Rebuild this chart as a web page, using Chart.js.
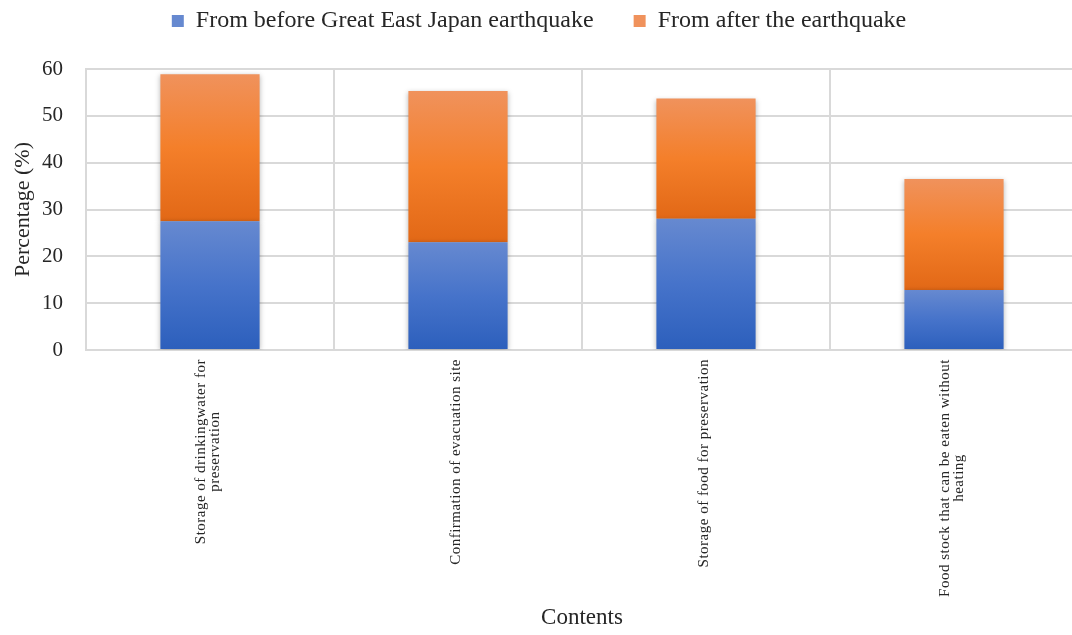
<!DOCTYPE html>
<html>
<head>
<meta charset="utf-8">
<script src="https://cdn.jsdelivr.net/npm/chart.js@4/dist/chart.umd.min.js"></script>
<style>
  html, body { margin: 0; padding: 0; background: #fff; overflow: hidden; }
  #wrap { width: 1078px; height: 635px; }
</style>
</head>
<body>
<div id="wrap"><canvas id="chart" width="1078" height="635"></canvas></div>
<script>
// data
const categories = [
  ["Storage of drinkingwater for", "preservation"],
  ["Confirmation of evacuation site"],
  ["Storage of food for preservation"],
  ["Food stock that can be eaten without", "heating"]
];
const beforeQuake = [27.5, 23.0, 28.0, 12.8];
const afterQuake = [31.4, 32.3, 25.7, 23.7];
const yTicks = [0, 10, 20, 30, 40, 50, 60];

const serif = "'Liberation Serif', 'Times New Roman', serif";
const textColor = "#262626";
const gridColor = "#d9d9d9";

// gradient of each bar, from its own top to its own bottom
function barFill(stops, solid, lowOf, highOf) {
  return function (context) {
    const chart = context.chart;
    const y = chart.scales.y;
    const i = context.dataIndex;
    if (!chart.chartArea || !y || i === undefined) return solid;
    const top = y.getPixelForValue(highOf(i));
    const bottom = y.getPixelForValue(lowOf(i));
    const g = chart.ctx.createLinearGradient(0, top, 0, bottom);
    stops.forEach((s) => g.addColorStop(s[0], s[1]));
    return g;
  };
}

const blueFill = barFill(
  [[0, "#6689d0"], [0.5, "#4673ca"], [1, "#2c5fbc"]],
  "#3f6fc6",
  () => 0,
  (i) => beforeQuake[i]
);
const orangeFill = barFill(
  [[0, "#f0925c"], [0.5, "#f47f2a"], [1, "#e26816"]],
  "#ef7a28",
  (i) => beforeQuake[i],
  (i) => beforeQuake[i] + afterQuake[i]
);

// soft shadow round the bars
const barShadow = {
  id: "barShadow",
  beforeDatasetsDraw(chart) {
    const c = chart.ctx;
    c.save();
    c.shadowColor = "rgba(0,0,0,0.28)";
    c.shadowBlur = 5;
    c.shadowOffsetX = 0;
    c.shadowOffsetY = 1;
  },
  afterDatasetsDraw(chart) {
    chart.ctx.restore();
  }
};

// legend sits higher than its padding would put it
const legendHeight = {
  id: "legendHeight",
  afterInit(chart) {
    const fit = chart.legend.fit;
    chart.legend.fit = function () {
      fit.call(this);
      this.height = 100;
    };
  }
};

// vertical category labels, lines centred on each other
const categoryLabels = {
  id: "categoryLabels",
  afterDraw(chart) {
    const c = chart.ctx;
    const x = chart.scales.x;
    const lineHeight = 14;
    c.save();
    c.font = "15px " + serif;
    c.letterSpacing = "0.5px";
    c.fillStyle = textColor;
    c.textAlign = "center";
    c.textBaseline = "middle";
    categories.forEach((lines, i) => {
      const widest = Math.max(...lines.map((l) => c.measureText(l).width));
      const px = x.getPixelForValue(i);
      c.save();
      c.translate(px - 2, x.top + 9 + widest / 2);
      c.rotate(-Math.PI / 2);
      lines.forEach((line, j) => {
        c.fillText(line, 0, (j - (lines.length - 1) / 2) * lineHeight);
      });
      c.restore();
    });
    c.restore();
  }
};

new Chart(document.getElementById("chart"), {
  type: "bar",
  data: {
    labels: categories,
    datasets: [
      {
        label: "From before Great East Japan earthquake",
        data: beforeQuake,
        backgroundColor: blueFill,
        borderWidth: 0
      },
      {
        label: "From after the earthquake",
        data: afterQuake,
        backgroundColor: orangeFill,
        borderWidth: 0
      }
    ]
  },
  options: {
    responsive: false,
    animation: false,
    layout: { padding: { top: -31, left: 0, right: 0, bottom: 0 } },
    datasets: {
      bar: { barPercentage: 0.4, categoryPercentage: 1 }
    },
    scales: {
      x: {
        stacked: true,
        grid: { color: gridColor, lineWidth: 2, drawTicks: false },
        border: { color: gridColor, width: 2 },
        ticks: { display: false },
        title: {
          display: true,
          text: "Contents",
          color: textColor,
          font: { family: serif, size: 23 },
          padding: { top: 0, bottom: 3 }
        },
        afterFit(scale) {
          scale.height = 285;
        }
      },
      y: {
        stacked: true,
        min: 0,
        max: 60,
        afterBuildTicks(scale) {
          scale.ticks = yTicks.map((v) => ({ value: v }));
        },
        grid: { color: gridColor, lineWidth: 2, drawTicks: false },
        border: { color: gridColor, width: 2 },
        ticks: {
          color: textColor,
          padding: 23,
          font: { family: serif, size: 21 }
        },
        title: {
          display: true,
          text: "Percentage (%)",
          color: textColor,
          font: { family: serif, size: 22 },
          padding: { top: 10, bottom: 0 }
        },
        afterFit(scale) {
          scale.width = 86;
        }
      }
    },
    plugins: {
      legend: {
        position: "top",
        labels: {
          color: textColor,
          boxWidth: 12,
          boxHeight: 12,
          padding: 40,
          font: { family: serif, size: 24 }
        }
      },
      tooltip: { enabled: false }
    }
  },
  plugins: [barShadow, legendHeight, categoryLabels]
});
</script>
</body>
</html>
